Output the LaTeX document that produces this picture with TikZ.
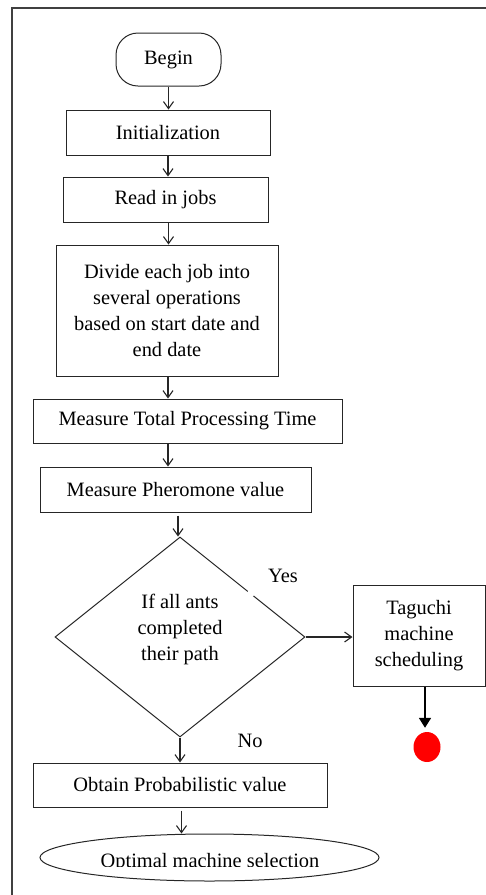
\documentclass[tikz,border=0pt]{standalone}
\usepackage{fontspec}
\setmainfont{Liberation Serif}
\usetikzlibrary{shapes.geometric,arrows.meta,calc}
\begin{document}
\begin{tikzpicture}[x=1pt,y=-1pt,
  every node/.style={font=\fontsize{20.4}{26}\selectfont},
  boxst/.style={draw=black!85, line width=1pt, rectangle, inner sep=0pt, align=center},
  arr/.style={draw=black!85, line width=1.1pt, -{Straight Barb[length=7pt,width=10pt]}},
  thickarr/.style={draw=black, line width=1.8pt, -{Triangle[length=10pt,width=12pt]}},
  lbl/.style={inner sep=0pt}
]
\useasboundingbox (0,0) rectangle (486,895);
% frame
\draw[black!75, line width=1.6pt] (486,8) -- (12,8) -- (12,895);

\node[boxst, rounded corners=22pt, minimum width=105pt, minimum height=53pt] (begin) at (168.5,59.5) {Begin};
\node[boxst, minimum width=204pt, minimum height=45pt] (init) at (168,132.5) {Initialization};
\node[boxst, minimum width=205pt, minimum height=45pt] (read) at (165.5,199.5) {Read in jobs};
\node[boxst, minimum width=222pt, minimum height=131pt] (divide) at (167,310.5)
  {Divide each job into\\several operations\\based on start date and\\end date};
\node[boxst, minimum width=309pt, minimum height=44pt] (mtpt) at (187.5,421) {Measure Total Processing Time};
\node[boxst, minimum width=271pt, minimum height=45pt] (mph) at (175.5,489.5) {Measure Pheromone value};
\node[draw=black!85, line width=1pt, diamond, minimum width=250pt, minimum height=200pt, inner sep=0pt] (dec) at (180,637) {};
\node[lbl, align=center] (dectext) at (180,629.5) {If all ants\\completed\\their path};
\draw[white, line width=3pt] (248,591.4) -- (253.5,595.8);
\node[boxst, minimum width=132pt, minimum height=101pt] (tag) at (419,635.5) {Taguchi\\machine\\scheduling};
\node[circle, fill=red, inner sep=0pt, minimum width=27pt, minimum height=30pt, ellipse] (stop) at (427,747) {};
\node[boxst, minimum width=294pt, minimum height=44pt] (obtain) at (180,785) {Obtain Probabilistic value};
\node[draw=black!85, line width=1pt, ellipse, minimum width=339pt, minimum height=47pt, inner sep=0pt] (final) at (209.5,857.5) {};
\begin{scope}
  \clip (40,830) rectangle (380,866.5);
  \node[lbl, anchor=base] (finaltext) at (210,867) {Optimal machine selection};
\end{scope}

\node[lbl] (yes) at (283,576) {Yes};
\node[lbl] (no) at (250,741) {No};

\draw[arr] (begin.south) -- (begin.south |- init.north);
\draw[arr] (init.south) -- (init.south |- read.north);
\draw[arr] ($(read.south)+(3,0)$) -- ($(read.south |- divide.north)+(3,0)$);
\draw[arr] ($(divide.south)+(1,0)$) -- ($(divide.south |- mtpt.north)+(1,0)$);
\draw[arr] ($(mtpt.south -| divide.south)+(1,0)$) -- ($(mph.north -| divide.south)+(1,0)$);
\draw[arr] ($(mph.south -| dec.north)+(-2,3)$) -- ($(dec.north)+(-2,0)$);
\draw[arr] (dec.east) -- (dec.east -| tag.west);
\draw[thickarr, shorten >=4pt] ($(tag.south)+(6,0)$) -- (stop.north -| {$(tag.south)+(6,0)$});
\draw[arr] (dec.south) -- (dec.south |- obtain.north);
\draw[arr] ($(obtain.south -| final.north)+(-28,3)$) -- ($(final.north)+(-28,0)$);
\end{tikzpicture}
\end{document}
